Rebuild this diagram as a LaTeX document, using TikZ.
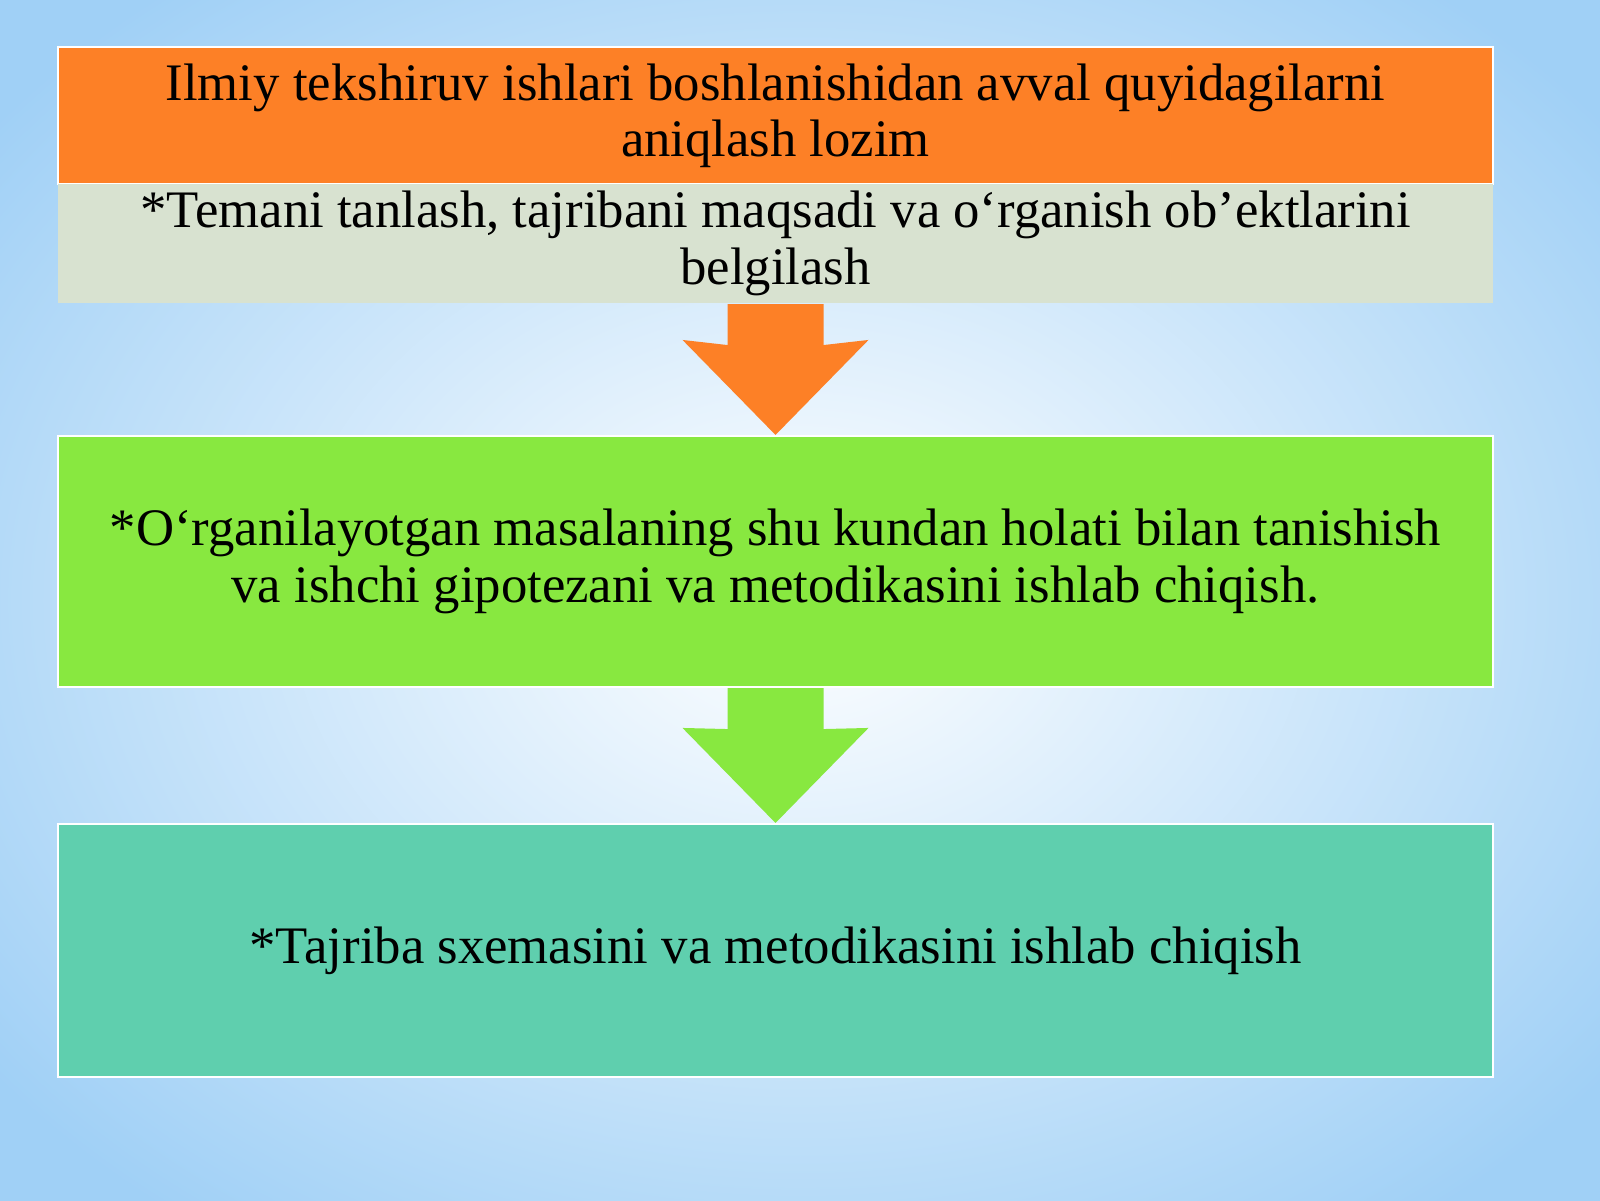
\documentclass[tikz,border=0pt]{standalone}
\usepackage{fontspec}
\setmainfont{Liberation Serif}
\usetikzlibrary{calc}
\definecolor{bgblue}{RGB}{160,208,246}
\definecolor{boxorange}{RGB}{253,128,38}
\definecolor{boxgray}{RGB}{216,226,208}
\definecolor{boxgreen}{RGB}{136,232,64}
\definecolor{boxteal}{RGB}{95,207,174}

\tikzset{
  stepbox/.style={rectangle, draw=white, line width=0.6pt, inner sep=0pt,
    minimum width=14.35cm, align=center, text=black,
    font=\fontsize{15}{16}\selectfont},
}

\begin{document}
\begin{tikzpicture}
    \useasboundingbox (0,0) rectangle (16,12);
    \clip (0,0) rectangle (16,12);
    \shade[inner color=white, outer color=bgblue] (-2.2,-1.8) rectangle (18.2,13.8); % background

    \node[stepbox,fill=boxorange,minimum height=1.37cm] (head) at (7.755,10.845)
      {Ilmiy tekshiruv ishlari boshlanishidan avval quyidagilarni\\aniqlash lozim};
    \node[stepbox,fill=boxgray,draw=none,minimum height=1.19cm] (theme) at (7.755,9.565)
      {*Temani tanlash, tajribani maqsadi va o‘rganish ob’ektlarini\\belgilash};
    \node[stepbox,fill=boxgreen,minimum height=2.51cm] (study) at (7.755,6.385)
      {*O‘rganilayotgan masalaning shu kundan holati bilan tanishish\\va ishchi gipotezani va metodikasini ishlab chiqish.};
    \node[stepbox,fill=boxteal,minimum height=2.53cm] (scheme) at (7.755,2.495)
      {*Tajriba sxemasini va metodikasini ishlab chiqish};

    % block arrows between the steps
    \foreach \from/\to/\col in {theme/study/boxorange, study/scheme/boxgreen}{
      \fill[\col] ($(\from.south)+(-0.48,0)$) -- ++(0,-0.41) -- ($(\to.north)+(-0.93,0.95)$)
        -- (\to.north) -- ($(\to.north)+(0.93,0.95)$) -- ($(\from.south)+(0.48,-0.41)$)
        -- ($(\from.south)+(0.48,0)$) -- cycle;
    }
\end{tikzpicture}
\end{document}
